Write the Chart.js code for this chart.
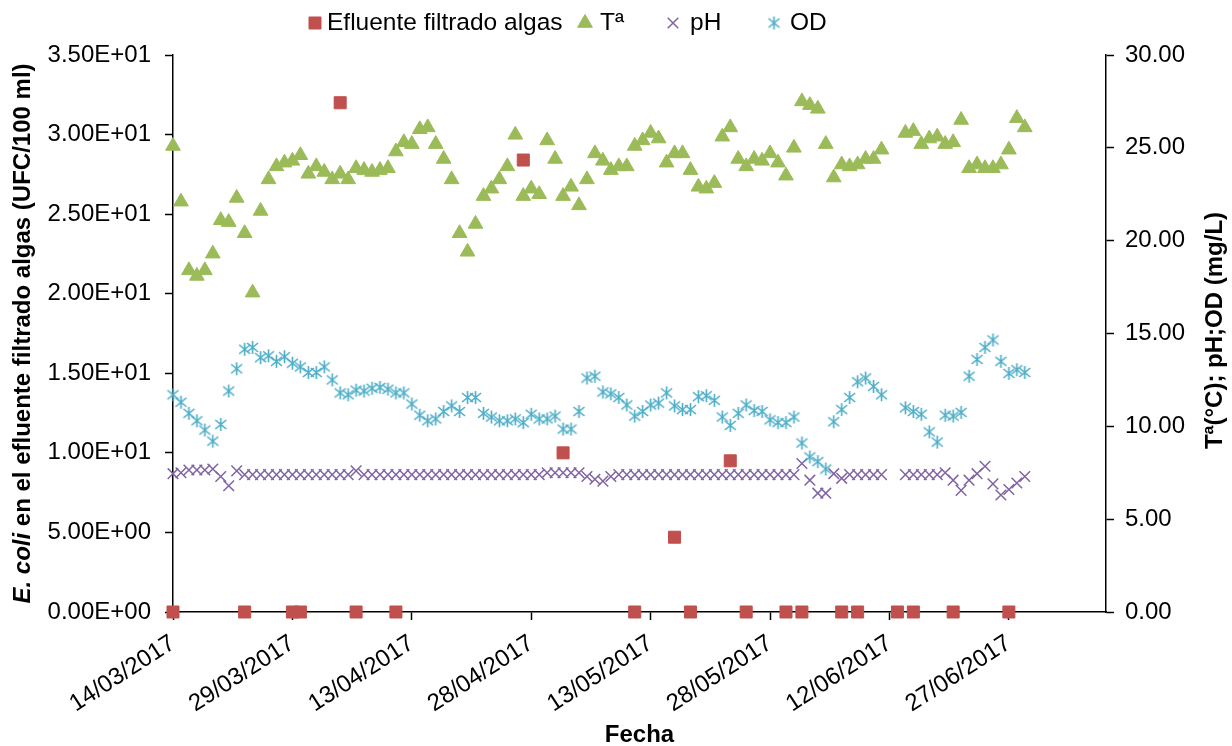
<!DOCTYPE html>
<html>
<head>
<meta charset="utf-8">
<script src="https://cdn.jsdelivr.net/npm/chart.js@4.4.1/dist/chart.umd.min.js"></script>
<style>
  html, body { margin: 0; padding: 0; background: #fff; }
  #wrap { width: 1232px; height: 746px; position: relative; }
</style>
</head>
<body>
<div id="wrap"><canvas id="grafico" width="1232" height="746"></canvas></div>
<script>
// Fechas de muestreo de los parámetros físico-químicos
const fechas = [
  '14/03/2017','15/03/2017','16/03/2017','17/03/2017','18/03/2017','19/03/2017','20/03/2017','21/03/2017','22/03/2017',
  '23/03/2017','24/03/2017','25/03/2017','26/03/2017','27/03/2017','28/03/2017','29/03/2017','30/03/2017','31/03/2017',
  '01/04/2017','02/04/2017','03/04/2017','04/04/2017','05/04/2017','06/04/2017','07/04/2017','08/04/2017','09/04/2017','10/04/2017',
  '11/04/2017','12/04/2017','13/04/2017','14/04/2017','15/04/2017','16/04/2017','17/04/2017','18/04/2017','19/04/2017','20/04/2017',
  '21/04/2017','22/04/2017','23/04/2017','24/04/2017','25/04/2017','26/04/2017','27/04/2017','28/04/2017','29/04/2017','30/04/2017',
  '01/05/2017','02/05/2017','03/05/2017','04/05/2017','05/05/2017','06/05/2017','07/05/2017','08/05/2017','09/05/2017','10/05/2017',
  '11/05/2017','12/05/2017','13/05/2017','14/05/2017','15/05/2017','16/05/2017','17/05/2017','18/05/2017','19/05/2017','20/05/2017',
  '21/05/2017','22/05/2017','23/05/2017','24/05/2017','25/05/2017','26/05/2017','27/05/2017','28/05/2017','29/05/2017','30/05/2017','31/05/2017',
  '01/06/2017','02/06/2017','03/06/2017','04/06/2017','05/06/2017','06/06/2017','07/06/2017','08/06/2017','09/06/2017','10/06/2017','11/06/2017',
  '14/06/2017','15/06/2017','16/06/2017','17/06/2017','18/06/2017','19/06/2017','20/06/2017','21/06/2017',
  '22/06/2017','23/06/2017','24/06/2017','25/06/2017','26/06/2017','27/06/2017','28/06/2017','29/06/2017'
];

// Temperatura (ºC)
const temperatura = [
  25.1, 22.1, 18.4, 18.1, 18.4, 19.3, 21.1, 21.0, 22.3, 20.4, 17.2, 21.6, 23.3, 24.0, 24.2, 24.3, 24.6, 23.6,
  24.0, 23.7, 23.3, 23.6, 23.3, 23.9, 23.8, 23.7, 23.8, 23.9, 24.8, 25.3, 25.2, 26.0, 26.1, 25.2, 24.4, 23.3,
  20.4, 19.4, 20.9, 22.4, 22.8, 23.3, 24.0, 25.7, 22.4, 22.8, 22.5, 25.4,
  24.4, 22.4, 22.9, 21.9, 23.3, 24.7, 24.3, 23.8, 24.0, 24.0, 25.1, 25.4, 25.8, 25.5, 24.2, 24.7, 24.7, 23.8,
  22.9, 22.8, 23.1, 25.6, 26.1, 24.4, 24.0, 24.4, 24.3, 24.7, 24.2, 23.5, 25.0,
  27.5, 27.3, 27.1, 25.2, 23.4, 24.1, 24.0, 24.1, 24.4, 24.4, 24.9,
  25.8, 25.9, 25.2, 25.5, 25.6, 25.2, 25.3, 26.5, 23.9, 24.1, 23.9, 23.9, 24.1, 24.9, 26.6, 26.1
];

// pH
const ph = [
  7.45, 7.5, 7.65, 7.65, 7.65, 7.7, 7.3, 6.8, 7.6, 7.4, 7.4, 7.4, 7.4, 7.4, 7.4, 7.4, 7.4, 7.4,
  7.4, 7.4, 7.4, 7.4, 7.4, 7.6, 7.4, 7.4, 7.4, 7.4, 7.4, 7.4, 7.4, 7.4, 7.4, 7.4, 7.4, 7.4,
  7.4, 7.4, 7.4, 7.4, 7.4, 7.4, 7.4, 7.4, 7.4, 7.4, 7.4, 7.5,
  7.5, 7.5, 7.5, 7.5, 7.3, 7.15, 7.05, 7.3, 7.4, 7.4, 7.4, 7.4, 7.4, 7.4, 7.4, 7.4, 7.4, 7.4,
  7.4, 7.4, 7.4, 7.4, 7.4, 7.4, 7.4, 7.4, 7.4, 7.4, 7.4, 7.4, 7.4,
  8.0, 7.1, 6.4, 6.4, 7.45, 7.2, 7.4, 7.4, 7.4, 7.4, 7.4,
  7.4, 7.4, 7.4, 7.4, 7.4, 7.5, 7.1, 6.55, 7.1, 7.45, 7.85, 6.9, 6.3, 6.6, 6.95, 7.3
];

// Oxígeno disuelto (mg/L)
const od = [
  11.7, 11.3, 10.7, 10.3, 9.8, 9.2, 10.1, 11.9, 13.1, 14.15, 14.25, 13.7, 13.8, 13.5, 13.75, 13.4, 13.2, 12.9,
  12.9, 13.2, 12.5, 11.8, 11.7, 11.95, 11.9, 12.05, 12.1, 12.0, 11.8, 11.8, 11.2, 10.6, 10.3, 10.4, 10.8, 11.1,
  10.8, 11.55, 11.55, 10.7, 10.5, 10.3, 10.3, 10.4, 10.2, 10.65, 10.4, 10.4,
  10.55, 9.85, 9.85, 10.8, 12.6, 12.7, 11.85, 11.75, 11.55, 11.15, 10.55, 10.8, 11.15, 11.25, 11.8, 11.1, 10.9, 10.9,
  11.6, 11.65, 11.4, 10.5, 10.05, 10.7, 11.15, 10.85, 10.8, 10.35, 10.2, 10.2, 10.5,
  9.1, 8.35, 8.1, 7.7, 10.25, 10.9, 11.55, 12.4, 12.6, 12.15, 11.7,
  11.0, 10.8, 10.65, 9.7, 9.15, 10.6, 10.55, 10.75, 12.7, 13.6, 14.25, 14.65, 13.5, 12.85, 13.05, 12.9
];

// E. coli en el efluente filtrado de algas (UFC/100 ml)
const fechasEcoli = [
  '14/03/2017','23/03/2017','29/03/2017','30/03/2017','04/04/2017','06/04/2017','11/04/2017','27/04/2017',
  '02/05/2017','11/05/2017','16/05/2017','18/05/2017','23/05/2017','25/05/2017','30/05/2017','01/06/2017',
  '06/06/2017','08/06/2017','13/06/2017','15/06/2017','20/06/2017','27/06/2017'
];
const ecoli = [0, 0, 0, 0, 32.0, 0, 0, 28.4, 10.0, 0, 4.7, 0, 9.5, 0, 0, 0, 0, 0, 0, 0, 0, 0];

// Etiquetas del eje de fechas
const fechasEje = ['14/03/2017','29/03/2017','13/04/2017','28/04/2017','13/05/2017','28/05/2017','12/06/2017','27/06/2017'];

const ORIGEN = Date.UTC(2017, 2, 14);
const DIA = 86400000;
function diaDe(f) {
  const [d, m, a] = f.split('/').map(Number);
  return Math.round((Date.UTC(a, m - 1, d) - ORIGEN) / DIA);
}
function dosCifras(n) { return (n < 10 ? '0' : '') + n; }
function fechaDe(n) {
  const t = new Date(ORIGEN + Math.round(n) * DIA);
  return dosCifras(t.getUTCDate()) + '/' + dosCifras(t.getUTCMonth() + 1) + '/' + t.getUTCFullYear();
}
function cientifico(v) {
  if (v === 0) return '0.00E+00';
  const e = Math.floor(Math.log10(Math.abs(v)) + 1e-9);
  const m = v / Math.pow(10, e);
  return m.toFixed(2) + 'E' + (e < 0 ? '-' : '+') + dosCifras(Math.abs(e));
}
function serie(xs, ys) { return xs.map((f, i) => ({ x: diaDe(f), y: ys[i] })); }

// Marcador de asterisco (aspa con trazo vertical)
function asterisco(color) {
  const c = document.createElement('canvas');
  c.width = 15; c.height = 15;
  const g = c.getContext('2d');
  g.strokeStyle = color; g.lineWidth = 1.6;
  g.beginPath();
  g.moveTo(2, 3); g.lineTo(13, 12);
  g.moveTo(13, 3); g.lineTo(2, 12);
  g.moveTo(7.5, 1); g.lineTo(7.5, 14);
  g.stroke();
  return c;
}

const ROJO = '#C0504D', VERDE = '#9BBB59', MORADO = '#8064A2', CIAN = '#4BACC6';
const FUENTE = '"Liberation Sans", Arial, sans-serif';

// Leyenda en la parte superior
const leyenda = {
  id: 'leyenda',
  afterDraw(chart) {
    const ctx = chart.ctx;
    const posiciones = [[315, 327], [585, 600], [673, 690], [774, 790]];
    ctx.save();
    ctx.font = '24.5px ' + FUENTE;
    ctx.textBaseline = 'middle';
    chart.data.datasets.forEach((ds, i) => {
      const [mx, tx] = posiciones[i];
      const y = 23;
      ctx.save();
      ctx.fillStyle = ds.backgroundColor;
      ctx.strokeStyle = ds.borderColor;
      ctx.lineWidth = ds.borderWidth;
      Chart.helpers.drawPoint(ctx, { pointStyle: ds.pointStyle, radius: ds.pointRadius, borderWidth: ds.borderWidth, rotation: 0 }, mx, y);
      ctx.restore();
      ctx.fillStyle = '#000';
      ctx.fillText(ds.label, tx, y);
    });
    ctx.restore();
  }
};

// Títulos de los ejes
const titulos = {
  id: 'titulos',
  afterDraw(chart) {
    const ctx = chart.ctx;
    const area = chart.chartArea;
    const cy = (area.top + area.bottom) / 2;
    ctx.save();
    ctx.fillStyle = '#000';
    ctx.textBaseline = 'middle';

    // Eje izquierdo con "E. coli" en cursiva
    const partes = [
      { t: 'E. coli', f: 'italic bold 24px ' + FUENTE },
      { t: ' en el efluente filtrado algas (UFC/100 ml)', f: 'bold 24px ' + FUENTE }
    ];
    let total = 0;
    partes.forEach(p => { ctx.font = p.f; p.w = ctx.measureText(p.t).width; total += p.w; });
    ctx.save();
    ctx.translate(23, cy);
    ctx.rotate(-Math.PI / 2);
    ctx.textAlign = 'left';
    let x = -total / 2;
    partes.forEach(p => { ctx.font = p.f; ctx.fillText(p.t, x, 0); x += p.w; });
    ctx.restore();

    // Eje derecho
    ctx.save();
    ctx.font = 'bold 24px ' + FUENTE;
    ctx.textAlign = 'center';
    ctx.translate(1215, cy - 3);
    ctx.rotate(-Math.PI / 2);
    ctx.fillText('Tª(°C); pH;OD (mg/L)', 0, 0);
    ctx.restore();

    // Eje de fechas
    ctx.font = 'bold 24px ' + FUENTE;
    ctx.textAlign = 'center';
    ctx.fillText('Fecha', (area.left + area.right) / 2, 735);
    ctx.restore();
  }
};

const ejeComun = {
  grid: { display: true, drawOnChartArea: false, drawTicks: true, tickLength: 8, tickColor: '#000', tickWidth: 1.5 },
  border: { display: true, color: '#000', width: 1.5 }
};

new Chart(document.getElementById('grafico'), {
  type: 'scatter',
  data: {
    datasets: [
      {
        label: 'Efluente filtrado algas', data: serie(fechasEcoli, ecoli), yAxisID: 'y',
        pointStyle: 'rect', pointRadius: 8.5, backgroundColor: ROJO, borderColor: ROJO, borderWidth: 1, clip: false, order: 4
      },
      {
        label: 'Tª', data: serie(fechas, temperatura), yAxisID: 'y2',
        pointStyle: 'triangle', pointRadius: 8.5, backgroundColor: VERDE, borderColor: VERDE, borderWidth: 1, clip: false, order: 3
      },
      {
        label: 'pH', data: serie(fechas, ph), yAxisID: 'y2',
        pointStyle: 'crossRot', pointRadius: 7.5, backgroundColor: MORADO, borderColor: MORADO, borderWidth: 1.5, clip: false, order: 2
      },
      {
        label: 'OD', data: serie(fechas, od), yAxisID: 'y2',
        pointStyle: asterisco(CIAN), pointRadius: 7, backgroundColor: CIAN, borderColor: CIAN, borderWidth: 1.5, clip: false, order: 1
      }
    ]
  },
  options: {
    responsive: false,
    animation: false,
    devicePixelRatio: 1,
    events: [],
    layout: { padding: { top: 55, left: 0, right: 0, bottom: 0 } },
    plugins: { legend: { display: false }, tooltip: { enabled: false } },
    scales: {
      x: Object.assign({
        type: 'linear', position: 'bottom', min: 0, max: 117.2,
        afterBuildTicks: s => { s.ticks = fechasEje.map(f => ({ value: diaDe(f) })); },
        afterFit: s => { s.height = 134; },
        ticks: {
          autoSkip: false, minRotation: 33, maxRotation: 33, padding: 9, color: '#000',
          font: { family: FUENTE, size: 24 }, callback: v => fechaDe(v)
        }
      }, ejeComun),
      y: Object.assign({
        type: 'linear', position: 'left', min: 0, max: 35,
        afterFit: s => { s.width = 173; },
        ticks: { stepSize: 5, padding: 14, color: '#000', font: { family: FUENTE, size: 24 }, callback: v => cientifico(v) }
      }, ejeComun),
      y2: Object.assign({
        type: 'linear', position: 'right', min: 0, max: 30,
        afterFit: s => { s.width = 126; },
        ticks: { stepSize: 5, padding: 11, color: '#000', font: { family: FUENTE, size: 24 }, callback: v => v.toFixed(2) }
      }, ejeComun)
    }
  },
  plugins: [leyenda, titulos]
});
</script>
</body>
</html>
